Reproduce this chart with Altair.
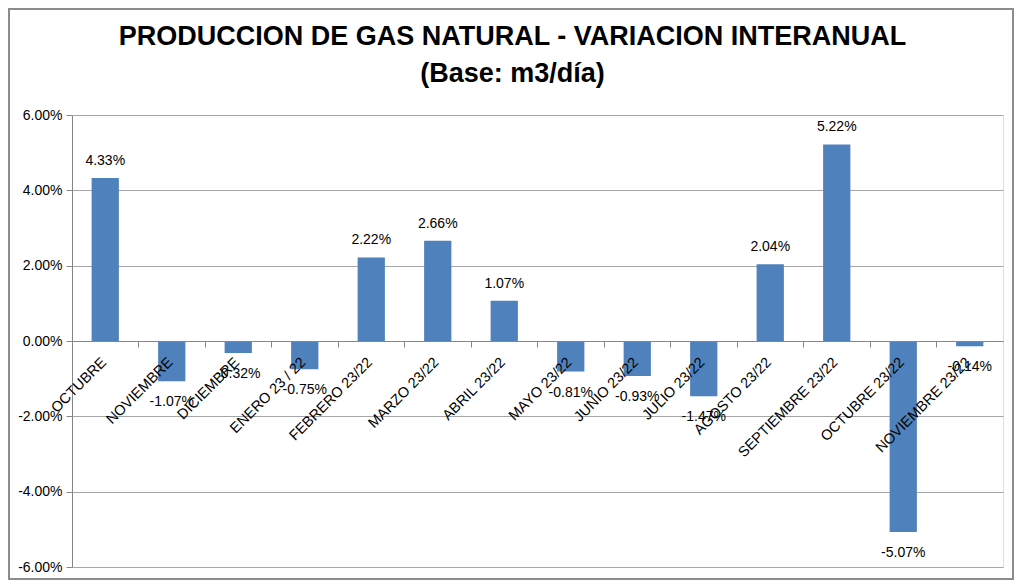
import altair as alt
import pandas as pd

categories = ["OCTUBRE", "NOVIEMBRE", "DICIEMBRE", "ENERO 23 / 22", "FEBRERO 23/22",
              "MARZO 23/22", "ABRIL 23/22", "MAYO 23/22", "JUNIO 23/22", "JULIO 23/22",
              "AGOSTO 23/22", "SEPTIEMBRE 23/22", "OCTUBRE 23/22", "NOVIEMBRE 23/22"]
values_pct = [4.33, -1.07, -0.32, -0.75, 2.22, 2.66, 1.07, -0.81, -0.93, -1.47,
              2.04, 5.22, -5.07, -0.14]
y_ticks = [-0.06, -0.04, -0.02, 0.0, 0.02, 0.04, 0.06]

df = pd.DataFrame({"cat": categories, "v": [p / 100 for p in values_pct]})

FONT = "Liberation Sans"
W, H = 931, 452
ZERO_OFF = -H / 2
MINUS_FIX = "replace(datum.label, '\u2212', '-')"

xscale = alt.Scale(domain=categories, paddingInner=0, paddingOuter=0)
yscale = alt.Scale(domain=[-0.06, 0.06], nice=False)

base = alt.Chart(df).transform_calculate(
    lbl="replace(format(datum.v, '.2%'), '\u2212', '-')"
)

bars = base.mark_bar(color="#4F81BD", width=alt.RelativeBandSize(0.41)).encode(
    x=alt.X("cat:N", sort=categories, scale=xscale, title=None,
            axis=alt.Axis(labelAngle=-45, labelAlign="right", labelBaseline="top",
                          labelFont=FONT, labelFontSize=14.5, labelColor="#000000",
                          labelPadding=14, labelOffset=-6, ticks=False, domain=True,
                          domainColor="#868686",
                          domainWidth=1, grid=False, offset=ZERO_OFF, orient="bottom",
                          labelOverlap=False, labelLimit=300, zindex=1)),
    y=alt.Y("v:Q", scale=yscale, title=None,
            axis=alt.Axis(values=y_ticks, format=".2%", labelExpr=MINUS_FIX,
                          labelFont=FONT, labelFontSize=14,
                          labelColor="#000000", grid=True, gridColor="#a6a6a6",
                          domainColor="#868686", tickColor="#868686", tickSize=6,
                          labelPadding=4)),
)

ticks_layer = base.mark_bar(opacity=0).encode(
    x=alt.X("cat:N", sort=categories, scale=xscale, title=None,
            axis=alt.Axis(labels=False, domain=False, ticks=True, bandPosition=0,
                          tickSize=6, tickColor="#868686", grid=False,
                          offset=ZERO_OFF, orient="bottom", zindex=1)),
    y=alt.Y("v:Q", scale=yscale, axis=None),
)

pos_labels = base.transform_filter("datum.v >= 0").mark_text(
    font=FONT, fontSize=14, color="#000000", baseline="bottom", dy=-10
).encode(
    x=alt.X("cat:N", sort=categories, scale=xscale, axis=None),
    y=alt.Y("v:Q", scale=yscale, axis=None),
    text=alt.Text("lbl:N"),
)

neg_labels = base.transform_filter("datum.v < 0").mark_text(
    font=FONT, fontSize=14, color="#000000", baseline="top", dy=14
).encode(
    x=alt.X("cat:N", sort=categories, scale=xscale, axis=None),
    y=alt.Y("v:Q", scale=yscale, axis=None),
    text=alt.Text("lbl:N"),
)

border = alt.Chart(pd.DataFrame({"a": [0]})).mark_rect(
    fill=None, stroke="#8c8c8c", strokeWidth=2
).encode(
    x=alt.value(-63), x2=alt.value(W + 10),
    y=alt.value(-106), y2=alt.value(H + 12),
)

chart = alt.layer(bars, ticks_layer, pos_labels, neg_labels, border).resolve_axis(
    x="independent", y="independent"
).properties(
    width=W, height=H,
    autosize=alt.AutoSizeParams(type="none"),
    padding={"left": 64, "top": 107, "right": 12, "bottom": 13},
    title=alt.Title(["PRODUCCION DE GAS NATURAL - VARIACION INTERANUAL", "(Base: m3/día)"],
                    font=FONT, fontSize=27, fontWeight="bold", color="#000000",
                    anchor="middle", dx=-25, lineHeight=37, offset=-80),
).configure_view(stroke=None).configure(background="white")

chart.save("out.html", embed_options={"renderer": "svg", "actions": False})
